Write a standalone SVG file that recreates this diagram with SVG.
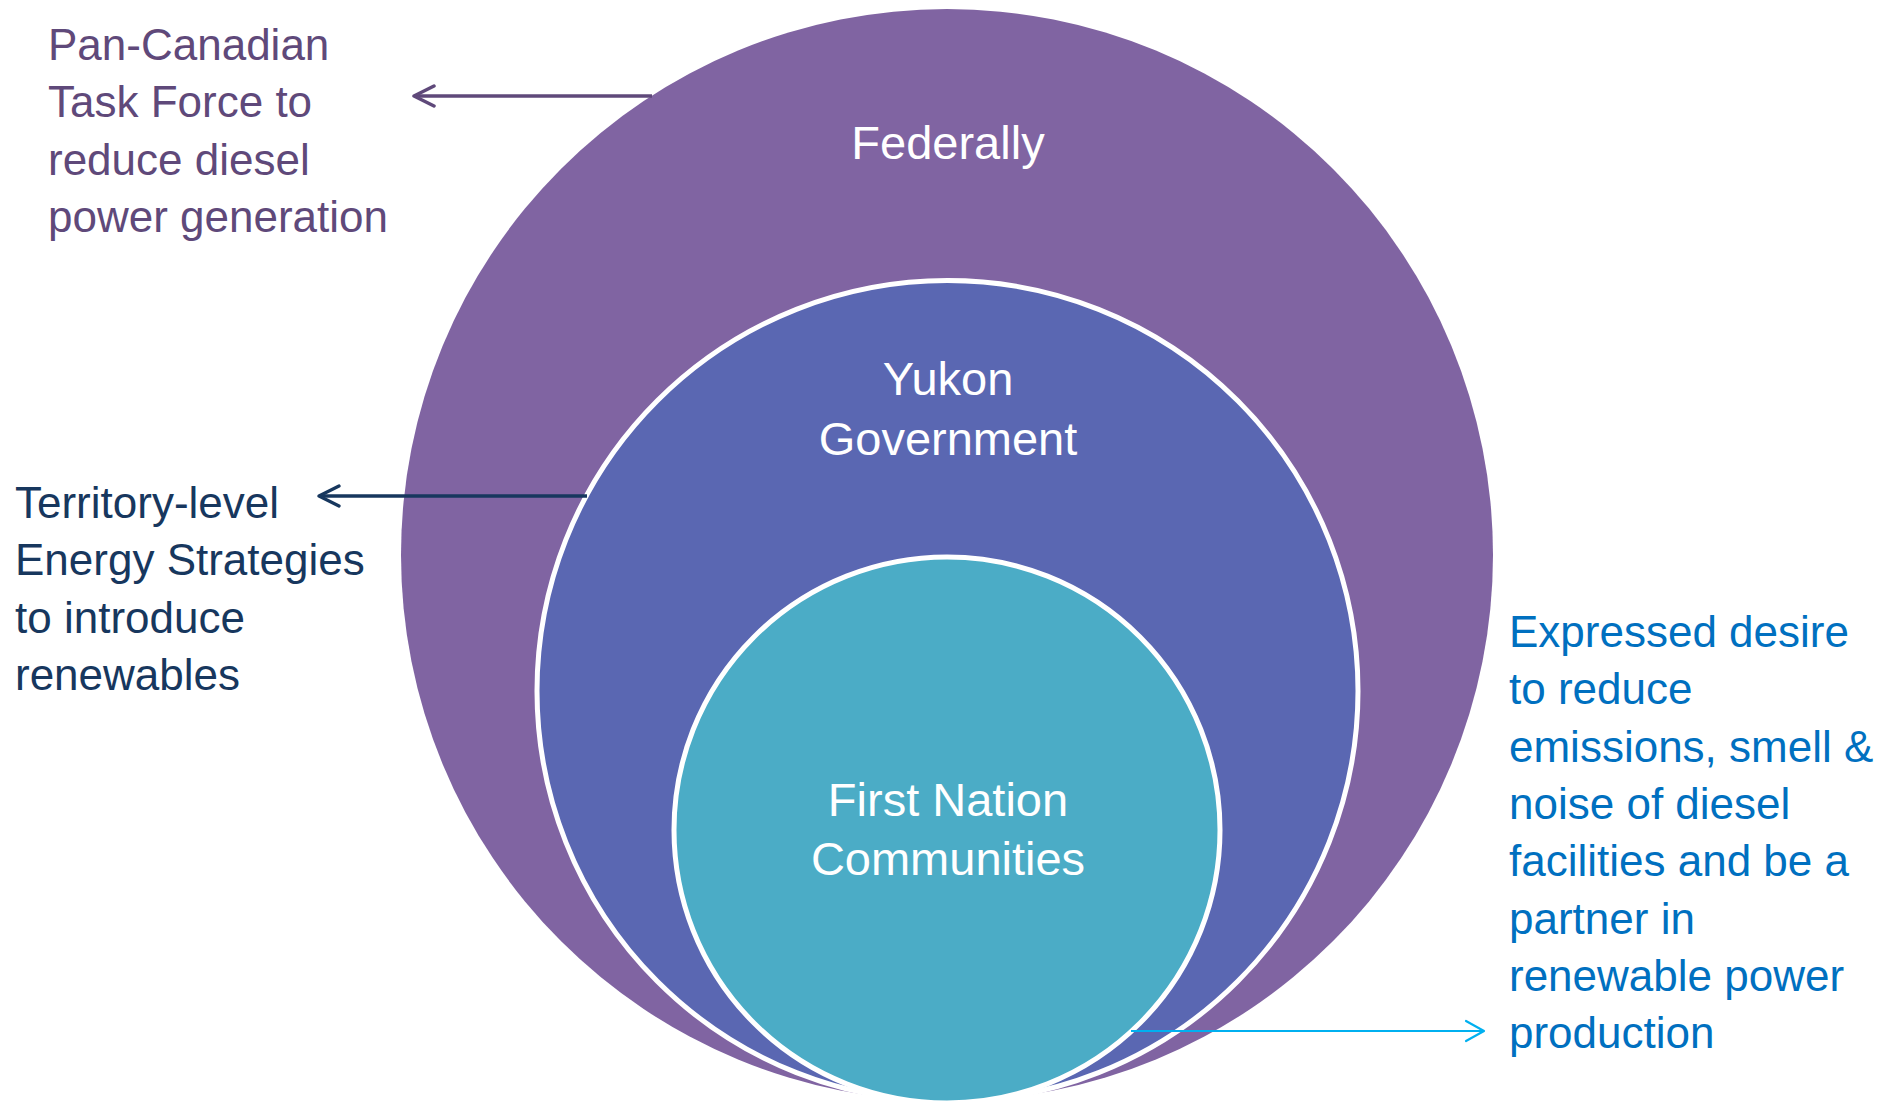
<svg xmlns="http://www.w3.org/2000/svg" width="1877" height="1101" viewBox="0 0 1877 1101">
<style>
.lbl{font-family:"Liberation Sans",Arial,sans-serif;font-size:44px}
.ctr{font-family:"Liberation Sans",Arial,sans-serif;font-size:47px;fill:#ffffff;text-anchor:middle}
.ring{stroke:#ffffff;stroke-width:5}
</style>
<defs>
<marker id="m1" markerUnits="userSpaceOnUse" markerWidth="30" markerHeight="30" refX="22" refY="12" orient="auto" viewBox="0 0 30 24">
<polyline points="2,2 22,12 2,22" fill="none" stroke="#5F497A" stroke-width="3.5" stroke-linecap="round" stroke-linejoin="round"/>
</marker>
<marker id="m2" markerUnits="userSpaceOnUse" markerWidth="30" markerHeight="30" refX="22" refY="12" orient="auto" viewBox="0 0 30 24">
<polyline points="2,2 22,12 2,22" fill="none" stroke="#17375E" stroke-width="3.3" stroke-linecap="round" stroke-linejoin="round"/>
</marker>
<marker id="m3" markerUnits="userSpaceOnUse" markerWidth="30" markerHeight="30" refX="20" refY="12" orient="auto" viewBox="0 0 30 24">
<polyline points="2,2 20,12 2,22" fill="none" stroke="#00B0F0" stroke-width="2.2" stroke-linecap="round" stroke-linejoin="round"/>
</marker>
</defs>
<rect width="1877" height="1101" fill="#ffffff"/>
<g id="federally">
<circle cx="947" cy="555" r="546" fill="#8064A2"/>
<text class="ctr" x="948" y="159">Federally</text>
</g>
<g id="yukon">
<circle class="ring" cx="947.5" cy="691" r="410.5" fill="#5A67B2"/>
<text class="ctr" x="948" y="395">Yukon</text>
<text class="ctr" x="948" y="455">Government</text>
</g>
<g id="first-nation">
<circle class="ring" cx="947" cy="830" r="273" fill="#4BACC6"/>
<text class="ctr" x="948" y="816">First Nation</text>
<text class="ctr" x="948" y="875">Communities</text>
</g>
<g id="connectors">
<line x1="652" y1="96" x2="414" y2="96" stroke="#5F497A" stroke-width="3.5" marker-end="url(#m1)"/>
<line x1="587" y1="496" x2="319" y2="496" stroke="#17375E" stroke-width="3.3" marker-end="url(#m2)"/>
<line x1="1131" y1="1031" x2="1484" y2="1031" stroke="#00B0F0" stroke-width="2.2" marker-end="url(#m3)"/>
</g>
<g id="note-federal" class="lbl" fill="#5F497A">
<text x="48" y="60">Pan-Canadian</text>
<text x="48" y="117">Task Force to</text>
<text x="48" y="175">reduce diesel</text>
<text x="48" y="232">power generation</text>
</g>
<g id="note-territory" class="lbl" fill="#17375E">
<text x="15" y="518">Territory-level</text>
<text x="15" y="575">Energy Strategies</text>
<text x="15" y="633">to introduce</text>
<text x="15" y="690">renewables</text>
</g>
<g id="note-community" class="lbl" fill="#0070C0">
<text x="1509" y="647">Expressed desire</text>
<text x="1509" y="704">to reduce</text>
<text x="1509" y="762">emissions, smell &amp;</text>
<text x="1509" y="819">noise of diesel</text>
<text x="1509" y="876">facilities and be a</text>
<text x="1509" y="934">partner in</text>
<text x="1509" y="991">renewable power</text>
<text x="1509" y="1048">production</text>
</g>
</svg>
